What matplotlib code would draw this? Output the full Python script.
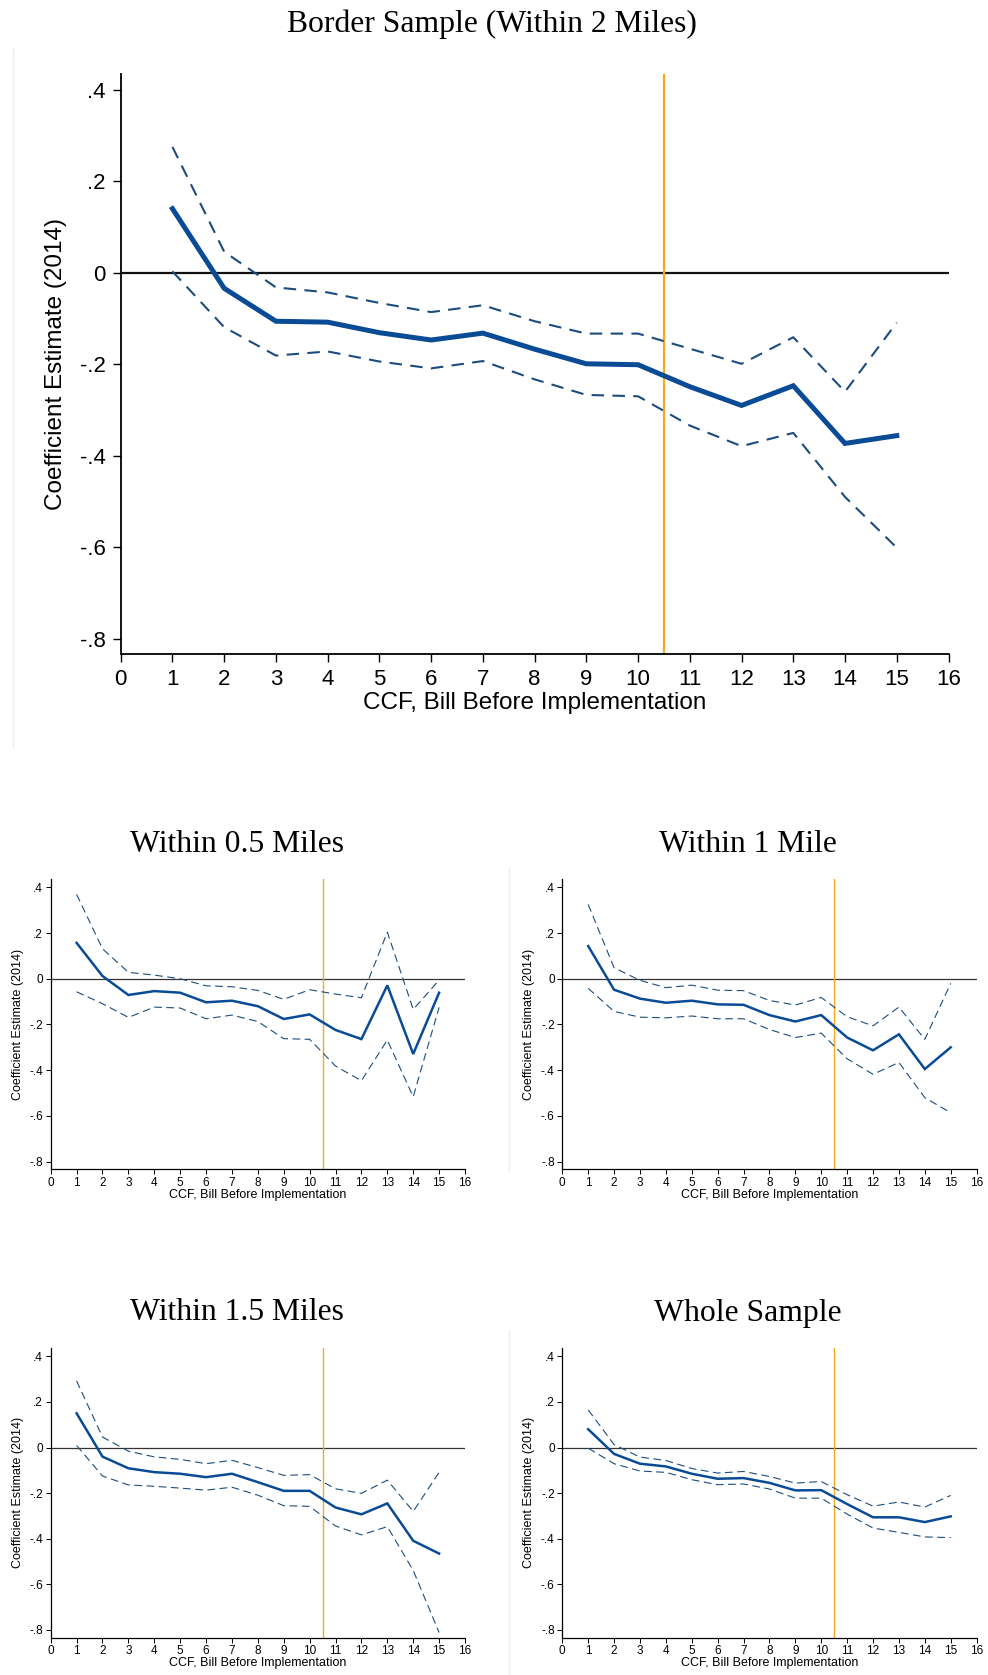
import numpy as np
import matplotlib.pyplot as plt
from matplotlib.lines import Line2D
from matplotlib.ticker import FuncFormatter

x = list(range(1, 16))
xticks = list(range(0, 17))
yticks = [0.4, 0.2, 0.0, -0.2, -0.4, -0.6, -0.8]

# border sample, within 2 miles
b2_est = [0.140, -0.034, -0.106, -0.108, -0.131, -0.147, -0.132, -0.167, -0.199, -0.201, -0.249, -0.290, -0.247, -0.373, -0.356]
b2_hi = [0.275, 0.046, -0.032, -0.043, -0.066, -0.086, -0.071, -0.106, -0.133, -0.133, -0.166, -0.199, -0.141, -0.260, -0.109]
b2_lo = [0.003, -0.119, -0.181, -0.172, -0.194, -0.209, -0.193, -0.233, -0.267, -0.270, -0.334, -0.379, -0.350, -0.490, -0.601]

# within 0.5 miles
m05_est = [0.157, 0.012, -0.071, -0.054, -0.061, -0.103, -0.096, -0.120, -0.176, -0.156, -0.224, -0.264, -0.029, -0.329, -0.061]
m05_hi = [0.369, 0.131, 0.028, 0.016, 0.000, -0.031, -0.035, -0.051, -0.090, -0.048, -0.067, -0.083, 0.204, -0.134, -0.006]
m05_lo = [-0.057, -0.109, -0.169, -0.124, -0.128, -0.175, -0.159, -0.187, -0.262, -0.265, -0.382, -0.446, -0.268, -0.516, -0.125]

# within 1 mile
m1_est = [0.143, -0.048, -0.087, -0.105, -0.096, -0.112, -0.114, -0.159, -0.187, -0.159, -0.257, -0.313, -0.243, -0.395, -0.300]
m1_hi = [0.325, 0.048, -0.007, -0.039, -0.028, -0.050, -0.052, -0.095, -0.115, -0.082, -0.166, -0.206, -0.124, -0.265, -0.020]
m1_lo = [-0.042, -0.143, -0.168, -0.171, -0.163, -0.175, -0.175, -0.222, -0.257, -0.238, -0.350, -0.418, -0.366, -0.520, -0.586]

# within 1.5 miles
m15_est = [0.150, -0.040, -0.091, -0.108, -0.115, -0.130, -0.115, -0.152, -0.190, -0.190, -0.263, -0.293, -0.245, -0.409, -0.465]
m15_hi = [0.292, 0.046, -0.016, -0.041, -0.052, -0.071, -0.056, -0.088, -0.122, -0.119, -0.181, -0.201, -0.143, -0.280, -0.109]
m15_lo = [0.009, -0.125, -0.164, -0.170, -0.178, -0.187, -0.174, -0.209, -0.255, -0.258, -0.344, -0.383, -0.347, -0.539, -0.811]

# whole sample
all_est = [0.080, -0.028, -0.071, -0.083, -0.115, -0.137, -0.134, -0.155, -0.188, -0.187, -0.248, -0.306, -0.306, -0.327, -0.302]
all_hi = [0.165, 0.013, -0.042, -0.057, -0.092, -0.112, -0.105, -0.127, -0.156, -0.149, -0.207, -0.257, -0.239, -0.261, -0.210]
all_lo = [-0.003, -0.071, -0.103, -0.109, -0.141, -0.163, -0.160, -0.182, -0.222, -0.222, -0.292, -0.353, -0.372, -0.392, -0.395]

cutoff = 10.5
solid_col = '#0a4b95'
dash_col = '#1c4c7e'
orange = '#f5aa1c'


def fmt(v, pos):
    if abs(v) < 1e-9:
        return '0'
    s = '%.1f' % v
    return s.replace('0.', '.')


def panel(ax, est, hi, lo, big):
    ax.axhline(0, color='#111111' if big else '#333333', lw=1.6 if big else 0.9, zorder=1)
    ax.axvline(cutoff, color=orange, lw=1.6 if big else 1.0, zorder=2)
    ax.plot(x, hi, color=dash_col, lw=1.5 if big else 0.8, dashes=(6, 4) if big else (7, 4), zorder=3)
    ax.plot(x, lo, color=dash_col, lw=1.5 if big else 0.8, dashes=(6, 4) if big else (7, 4), zorder=3)
    ax.plot(x, est, color=solid_col, lw=3.6 if big else 1.8, zorder=4, solid_joinstyle='miter')
    ax.set_xlim(0, 16)
    ax.set_ylim(-0.833, 0.435)
    ax.set_xticks(xticks)
    ax.set_yticks(yticks)
    ax.yaxis.set_major_formatter(FuncFormatter(fmt))
    for sp in ['top', 'right']:
        ax.spines[sp].set_visible(False)
    for sp in ['left', 'bottom']:
        ax.spines[sp].set_linewidth(1.3 if big else 0.9)
    fs = 16 if big else 8.5
    lfs = 17.5 if big else 9
    ax.tick_params(labelsize=fs, length=6 if big else 3.5, width=1.0 if big else 0.7,
                   pad=5 if big else 2)
    ax.set_xlabel('CCF, Bill Before Implementation', fontsize=lfs, labelpad=1 if big else 0)
    ax.set_ylabel('Coefficient Estimate (2014)', fontsize=lfs, labelpad=9 if big else 4)


plt.rcParams['font.family'] = ['Liberation Sans', 'DejaVu Sans']

W, H = 988, 1675
fig = plt.figure(figsize=(W / 100, H / 100), dpi=100)

# faint graph-region borders
for (x0, y0, y1) in [(13, 49, 748), (509, 867, 1170), (509, 1330, 1675)]:
    fig.add_artist(Line2D([x0 / W, x0 / W], [1 - y0 / H, 1 - y1 / H], color='#e6eff1', lw=1.0))

ax_top = fig.add_axes([120.7 / W, 1 - 653.9 / H, 827.8 / W, 580.2 / H])
panel(ax_top, b2_est, b2_hi, b2_lo, True)

ax05 = fig.add_axes([50.7 / W, 1 - 1169.2 / H, 414.3 / W, 289.9 / H])
panel(ax05, m05_est, m05_hi, m05_lo, False)
ax1 = fig.add_axes([562.3 / W, 1 - 1169.2 / H, 414.3 / W, 289.9 / H])
panel(ax1, m1_est, m1_hi, m1_lo, False)
ax15 = fig.add_axes([50.7 / W, 1 - 1637.5 / H, 414.3 / W, 289.2 / H])
panel(ax15, m15_est, m15_hi, m15_lo, False)
axall = fig.add_axes([562.3 / W, 1 - 1637.5 / H, 414.3 / W, 289.2 / H])
panel(axall, all_est, all_hi, all_lo, False)

serif = ['Liberation Serif', 'DejaVu Serif']
tfs = 22.8
fig.text(492 / W, 1 - 24 / H, 'Border Sample (Within 2 Miles)', ha='center', va='center',
         fontsize=tfs, family=serif)
fig.text(237 / W, 1 - 844 / H, 'Within 0.5 Miles', ha='center', va='center', fontsize=tfs, family=serif)
fig.text(748 / W, 1 - 844 / H, 'Within 1 Mile', ha='center', va='center', fontsize=tfs, family=serif)
fig.text(237 / W, 1 - 1313 / H, 'Within 1.5 Miles', ha='center', va='center', fontsize=tfs, family=serif)
fig.text(748 / W, 1 - 1313 / H, 'Whole Sample', ha='center', va='center', fontsize=tfs, family=serif)

fig.savefig('out.png', dpi=100, facecolor='white')
